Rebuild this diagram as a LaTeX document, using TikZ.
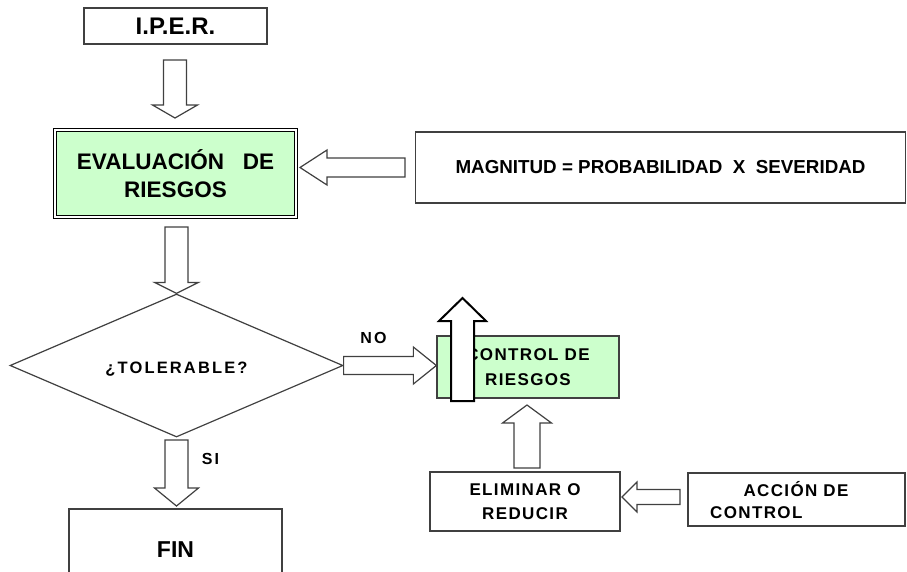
\documentclass[tikz,border=0pt]{standalone}
\usepackage{fontspec}
\setmainfont{Liberation Sans}
\newfontfamily\spaced[LetterSpace=8]{Liberation Sans}
\newfontfamily\wide[LetterSpace=13]{Liberation Sans}
\usetikzlibrary{calc,shapes.geometric}
\definecolor{lgreen}{HTML}{CCFFCC}
\definecolor{edge}{HTML}{404040}
\tikzset{
  box/.style={draw=edge, line width=1.3pt, fill=white, inner sep=0pt, align=center, font=\bfseries},
  gbox/.style={box, fill=lgreen},
  blk/.style={draw=edge, line width=1.2pt, fill=white, line join=miter},
  blkbold/.style={draw=black, line width=2pt, fill=white, line join=miter},
  lbl/.style={font=\bfseries\fontsize{16}{18}\selectfont\wide, inner sep=0pt}
}
% vertical block arrow: tail, tip, half shaft, half head, head length (negative = upward)
\newcommand\blkv[6][blk]{\draw[#1] ($(#2)+({-#4},0)$) -- ($(#3)+({-#4},{-(#6)})$) -- ($(#3)+({-#5},{-(#6)})$) -- (#3) -- ($(#3)+({#5},{-(#6)})$) -- ($(#3)+({#4},{-(#6)})$) -- ($(#2)+({#4},0)$) -- cycle;}
% horizontal block arrow
\newcommand\blkh[6][blk]{\draw[#1] ($(#2)+(0,{-#4})$) -- ($(#3)+({-(#6)},{-#4})$) -- ($(#3)+({-(#6)},{-#5})$) -- (#3) -- ($(#3)+({-(#6)},{#5})$) -- ($(#3)+({-(#6)},{#4})$) -- ($(#2)+(0,{#4})$) -- cycle;}
\begin{document}
\begin{tikzpicture}[x=1pt,y=-1pt]
\useasboundingbox (0,0) rectangle (907,571);
% nodes
\node[box, minimum width=183pt, minimum height=36pt, font=\bfseries\fontsize{24}{26}\selectfont] (iper) at (175.5,26) {I.P.E.R.};
\node[gbox, double=white, double distance=2.2pt, line width=1pt, draw=black, minimum width=241pt, minimum height=87pt, font=\bfseries\fontsize{22.5}{28}\selectfont] (eval) at (175.5,173.5) {EVALUACIÓN\ \ \ DE\\RIESGOS};
\node[box, minimum width=490pt, minimum height=71pt, font=\bfseries\fontsize{18.8}{20}\selectfont] (mag) at (660.5,167.5) {MAGNITUD = PROBABILIDAD\ \ X\ \ SEVERIDAD};
\node[diamond, draw=edge, line width=1.2pt, inner sep=0pt, minimum width=333pt, minimum height=143pt] (dia) at (176.5,365.5) {};
\node[lbl, font=\bfseries\fontsize{16.5}{18}\selectfont\wide] (tol) at (176.5,369) {¿TOLERABLE?};
\node[gbox, minimum width=182pt, minimum height=62pt, font=\bfseries\fontsize{17}{25}\selectfont\spaced] (ctrl) at (528,367) {CONTROL DE\\RIESGOS};
\node[box, minimum width=213pt, minimum height=82pt, font=\bfseries\fontsize{23}{25}\selectfont] (fin) at (175.5,550) {FIN};
\node[box, minimum width=190pt, minimum height=59pt, font=\bfseries\fontsize{17}{24}\selectfont\spaced] (elim) at (525,501.5) {ELIMINAR O\\REDUCIR};
\node[box, minimum width=217pt, minimum height=53pt] (acc) at (796.5,499.5) {};
\node[lbl, font=\bfseries\fontsize{17}{19}\selectfont\spaced] (acc1) at (796,489) {ACCIÓN DE};
\node[lbl, font=\bfseries\fontsize{17}{19}\selectfont\spaced, anchor=west] (acc2) at (710,512.5) {CONTROL};
\node[lbl] (no) at (373.5,337.5) {NO};
\node[lbl] (si) at (210.5,459) {SI};
% connector end points
\coordinate (a1t) at (175,60);   \coordinate (a1h) at (175,118);
\coordinate (a2t) at (dia.north |- 0,227);  \coordinate (a2h) at (dia.north);
\coordinate (a3t) at (405,167.5); \coordinate (a3h) at (300,167.5);
\coordinate (a4t) at (dia.east);  \coordinate (a4h) at (ctrl.west |- dia.east);
\coordinate (a6t) at (dia.south |- 0,440);  \coordinate (a6h) at (dia.south |- 0,506);
\coordinate (a7t) at (527,468);  \coordinate (a7h) at (527,405);
\coordinate (a8t) at (680,497);  \coordinate (a8h) at (622,497);
\coordinate (a5t) at (462.5,401); \coordinate (a5h) at (462.5,298);
% block arrows
\blkv{a1t}{a1h}{11.5}{22.5}{13}
\blkv{a2t}{a2h}{11.5}{22}{11}
\blkh{a3t}{a3h}{9.5}{17.5}{-27}
\blkh{a4t}{a4h}{9}{18.5}{23}
\blkv{a6t}{a6h}{11.5}{22}{18}
\blkv{a7t}{a7h}{13}{24.5}{-18}
\blkh{a8t}{a8h}{7.5}{15}{-15}
\blkv[blkbold]{a5t}{a5h}{11.5}{23.5}{-23}
\end{tikzpicture}
\end{document}
